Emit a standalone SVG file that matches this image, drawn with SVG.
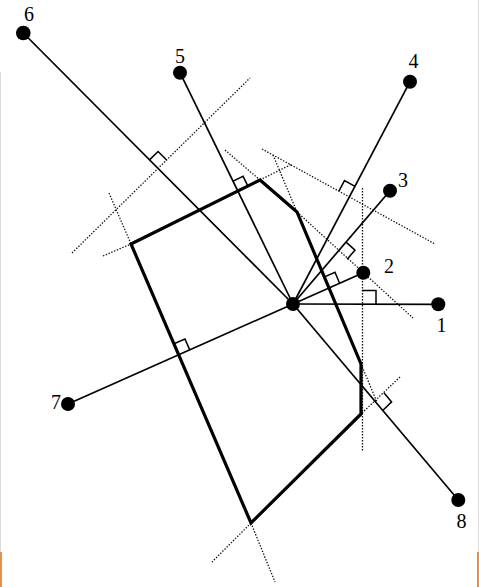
<svg xmlns="http://www.w3.org/2000/svg" width="479" height="587" viewBox="0 0 479 587">
<style>
.ray{stroke:#000;stroke-width:1.7;fill:none}
.cell{stroke:#000;stroke-width:3.2;fill:none;stroke-linejoin:miter}
.bis{stroke:#111;stroke-width:1.3;stroke-dasharray:1.4 1.6;fill:none}
.mark{stroke:#000;stroke-width:1.5;fill:none}
.dot{fill:#000}
.lbl{font-family:"Liberation Serif","Times New Roman",serif;font-size:20px;fill:#000;text-anchor:middle}
</style>
<rect width="479" height="587" fill="#fff"/>
<rect x="0" y="72" width="1" height="480" fill="#dcdcdc"/>
<rect x="478" y="0" width="1" height="552" fill="#dcdcdc"/>
<rect x="0" y="552" width="2" height="35" fill="#e8904a"/>
<rect x="477" y="552" width="2" height="35" fill="#e8904a"/>
<g id="bisectors">
<line class="bis" x1="72" y1="253" x2="250" y2="78"/>
<line class="bis" x1="103" y1="256" x2="131" y2="244"/>
<line class="bis" x1="260" y1="180" x2="292" y2="164"/>
<line class="bis" x1="109" y1="193" x2="131" y2="244"/>
<line class="bis" x1="251" y1="523" x2="275" y2="582"/>
<line class="bis" x1="262" y1="149" x2="435" y2="244"/>
<line class="bis" x1="225" y1="150" x2="260" y2="180"/>
<line class="bis" x1="297" y1="212" x2="413" y2="318"/>
<line class="bis" x1="273" y1="155" x2="297" y2="212"/>
<line class="bis" x1="361" y1="364" x2="377" y2="402"/>
<line class="bis" x1="362.5" y1="188" x2="362.5" y2="451"/>
<line class="bis" x1="400" y1="377" x2="361" y2="414"/>
<line class="bis" x1="251" y1="523" x2="212" y2="562"/>
</g>
<g id="connectors">
<line class="ray" x1="293" y1="304" x2="438.3" y2="304.3"/>
<line class="ray" x1="293" y1="304" x2="363.3" y2="272.7"/>
<line class="ray" x1="293" y1="304" x2="390" y2="190.7"/>
<line class="ray" x1="293" y1="304" x2="410" y2="81.7"/>
<line class="ray" x1="293" y1="304" x2="180" y2="72.7"/>
<line class="ray" x1="293" y1="304" x2="23.3" y2="33"/>
<line class="ray" x1="293" y1="304" x2="68" y2="404"/>
<line class="ray" x1="293" y1="304" x2="458.3" y2="500"/>
</g>
<g id="cell">
<polygon class="cell" points="131,244 260,180 297,212 361,364 361,414 251,523"/>
</g>
<g id="right-angles">
<polyline class="mark" points="362,290.5 376,290.5 376,304"/>
<polyline class="mark" points="339.6,283.3 335,272.2 324,277.1"/>
<polyline class="mark" points="346.1,242.1 355,250.1 347.2,259.2"/>
<polyline class="mark" points="355,186.4 344.5,180.6 338.9,191.2"/>
<polyline class="mark" points="233.1,181.1 243.1,176.3 247.9,186.2"/>
<polyline class="mark" points="149.5,159.9 158.1,151.5 166.6,160"/>
<polyline class="mark" points="189.7,349.9 185,339 174,343.8"/>
<polyline class="mark" points="383,410.3 391.6,401.9 383.9,392.7"/>
</g>
<g id="center"><circle class="dot" cx="293" cy="304" r="7"/></g>
<g id="p1"><circle class="dot" cx="438.3" cy="304.3" r="7"/><text class="lbl" x="441.5" y="332">1</text></g>
<g id="p2"><circle class="dot" cx="363.3" cy="272.7" r="7"/><text class="lbl" x="389" y="273">2</text></g>
<g id="p3"><circle class="dot" cx="390" cy="190.7" r="7"/><text class="lbl" x="403" y="187">3</text></g>
<g id="p4"><circle class="dot" cx="410" cy="81.7" r="7"/><text class="lbl" x="413.5" y="68">4</text></g>
<g id="p5"><circle class="dot" cx="180" cy="72.7" r="7"/><text class="lbl" x="180" y="63">5</text></g>
<g id="p6"><circle class="dot" cx="23.3" cy="33" r="7.3"/><text class="lbl" x="29" y="21">6</text></g>
<g id="p7"><circle class="dot" cx="68" cy="404" r="7"/><text class="lbl" x="56" y="409">7</text></g>
<g id="p8"><circle class="dot" cx="458.3" cy="500" r="7"/><text class="lbl" x="461.5" y="528">8</text></g>
</svg>
